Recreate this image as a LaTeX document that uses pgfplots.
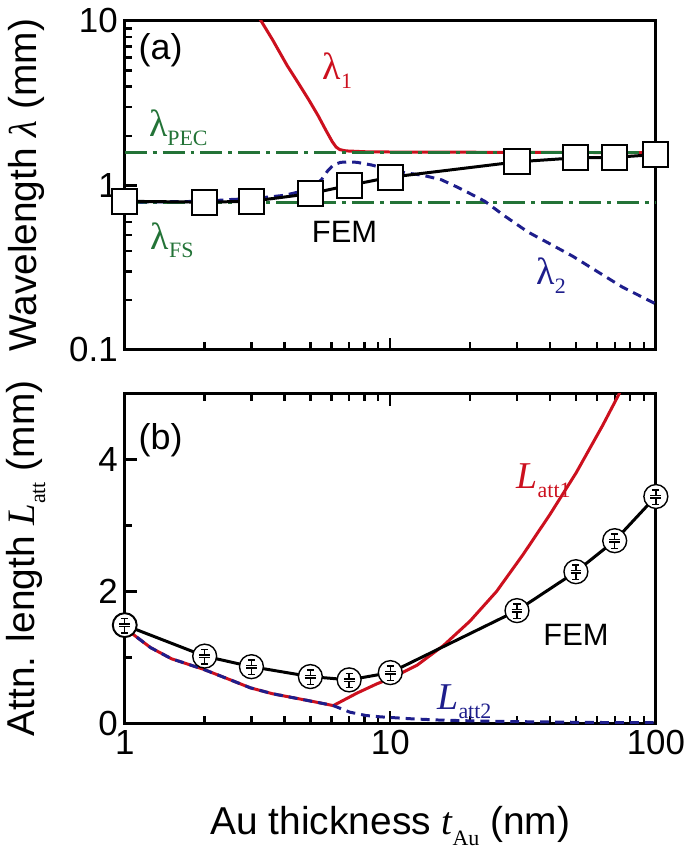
\documentclass[border=0pt]{standalone}
\usepackage{fontspec}
\setmainfont{Liberation Sans}
\newfontfamily\serif{Liberation Serif}
\usepackage{graphicx}
\usepackage{pgfplots}
\pgfplotsset{compat=1.18}

\definecolor{cred}{RGB}{204,16,30}
\definecolor{cblue}{RGB}{30,30,140}
\definecolor{cgreen}{RGB}{35,115,55}

\newcommand\sub[1]{\raisebox{-0.5ex}{\fontsize{11}{12}\selectfont #1}}

\pgfdeclareplotmark{cerr}{%
  \pgfpathcircle{\pgfpointorigin}{\pgfplotmarksize}%
  \pgfusepathqfillstroke
  \pgfsetlinewidth{0.7pt}%
  \pgfpathmoveto{\pgfqpoint{-0.3\pgfplotmarksize}{0.55\pgfplotmarksize}}%
  \pgfpathlineto{\pgfqpoint{0.3\pgfplotmarksize}{0.55\pgfplotmarksize}}%
  \pgfpathmoveto{\pgfqpoint{0pt}{0.55\pgfplotmarksize}}%
  \pgfpathlineto{\pgfqpoint{0pt}{0.08\pgfplotmarksize}}%
  \pgfpathmoveto{\pgfqpoint{-0.45\pgfplotmarksize}{0.08\pgfplotmarksize}}%
  \pgfpathlineto{\pgfqpoint{0.45\pgfplotmarksize}{0.08\pgfplotmarksize}}%
  \pgfpathmoveto{\pgfqpoint{-0.45\pgfplotmarksize}{-0.12\pgfplotmarksize}}%
  \pgfpathlineto{\pgfqpoint{0.45\pgfplotmarksize}{-0.12\pgfplotmarksize}}%
  \pgfpathmoveto{\pgfqpoint{0pt}{-0.12\pgfplotmarksize}}%
  \pgfpathlineto{\pgfqpoint{0pt}{-0.65\pgfplotmarksize}}%
  \pgfpathmoveto{\pgfqpoint{-0.3\pgfplotmarksize}{-0.65\pgfplotmarksize}}%
  \pgfpathlineto{\pgfqpoint{0.3\pgfplotmarksize}{-0.65\pgfplotmarksize}}%
  \pgfusepathqstroke
}

\pgfplotsset{
  every tick/.append style={line width=1.2pt, black},
  major tick length=6pt,
  minor tick length=3.8pt,
}

\begin{document}
\begin{tikzpicture}

% ---------- panel (a) ----------
\begin{axis}[
  scale only axis, width=266.5pt, height=165pt,
  at={(60.5pt,-175.5pt)}, anchor=south west,
  xmode=log, ymode=log,
  xmin=1, xmax=100, ymin=0.1, ymax=10,
  axis background/.style={draw=black, line width=1.5pt},
  tick align=inside,
  ticklabel style={font=\fontsize{17.5}{20}\selectfont},
  /pgf/number format/assume math mode=true,
  label style={font=\fontsize{19.5}{22}\selectfont},
  xtick={1,10,100}, xticklabels={},
  minor xtick={2,3,4,5,6,7,8,9,20,30,40,50,60,70,80,90},
  xtick pos=left,
  ytick pos=left,
  ytick={0.1,1,10}, yticklabels={0.1,1,10},
  minor ytick={0.2,0.3,0.4,0.5,0.6,0.7,0.8,0.9,2,3,4,5,6,7,8,9},
  ylabel={Wavelength {\serif\itshape λ} (mm)},
  ylabel style={at={(axis description cs:-0.186,0.5)}, anchor=center},
]
\addplot[cred, line width=1.5pt] coordinates {
 (3.1,11.5) (3.25,10.1) (3.6,7.7) (4.09,5.35) (4.5,4.2) (4.94,3.3) (5.35,2.65)
 (5.76,2.12) (6.05,1.84) (6.25,1.71) (6.45,1.65) (6.8,1.62) (8.1,1.60) (10,1.595) (20,1.59)
 (50,1.585) (100,1.58)};
\addplot[cgreen, line width=1.5pt, dash pattern=on 11pt off 3pt on 2pt off 3pt]
 coordinates {(1,1.58) (100,1.58)};
\addplot[cgreen, line width=1.5pt, dash pattern=on 11pt off 3pt on 2pt off 3pt]
 coordinates {(1,0.79) (100,0.79)};
\addplot[cblue, line width=1.5pt, dash pattern=on 4.5pt off 3pt] coordinates {
 (1,0.79) (1.5,0.795) (2,0.80) (2.5,0.82) (3,0.83) (3.5,0.85) (4,0.87) (4.5,0.91)
 (5,0.96) (5.5,1.08) (5.8,1.22) (6.1,1.33) (6.5,1.38) (7,1.39) (7.5,1.38)
 (8.5,1.33) (9.8,1.25) (11.5,1.19) (13.3,1.15) (15.6,1.08) (18,0.97) (20,0.89)
 (22.7,0.80) (27,0.65) (33,0.52) (40,0.44) (48.7,0.37) (60,0.30) (75,0.24) (100,0.19)};
\addplot[black, line width=1.5pt, mark=square*, mark size=6.3pt,
  mark options={fill=white, line width=1pt, solid}] coordinates {
 (1,0.80) (2,0.79) (3,0.80) (5,0.89) (7,1.0) (10,1.12) (30,1.39) (50,1.47) (70,1.48) (100,1.54)};

\node[anchor=center, font=\fontsize{18}{20}\selectfont] at (axis cs:1.365,6.67) {(a)};
\node[cgreen, anchor=base west, inner sep=0pt, font=\fontsize{19}{22}\selectfont\serif] at (axis cs:1.23,1.98) {λ\sub{PEC}};
\node[cgreen, anchor=base west, inner sep=0pt, font=\fontsize{19}{22}\selectfont\serif] at (axis cs:1.25,0.41) {λ\sub{FS}};
\node[cred, anchor=base west, inner sep=0pt, font=\fontsize{19}{22}\selectfont\serif] at (axis cs:5.55,4.39) {λ\sub{1}};
\node[cblue, anchor=base west, inner sep=0pt, font=\fontsize{19}{22}\selectfont\serif] at (axis cs:35.4,0.248) {λ\sub{2}};
\node[anchor=base west, inner sep=0pt, font=\fontsize{15.5}{18}\selectfont] at (axis cs:5.05,0.452) {FEM};
\end{axis}

% ---------- panel (b) ----------
\begin{axis}[
  scale only axis, width=266.5pt, height=165.5pt,
  at={(60.5pt,-363pt)}, anchor=south west,
  xmode=log,
  xmin=1, xmax=100, ymin=0, ymax=5,
  axis background/.style={draw=black, line width=1.5pt},
  tick align=inside,
  ticklabel style={font=\fontsize{17.5}{20}\selectfont},
  /pgf/number format/assume math mode=true,
  label style={font=\fontsize{19.5}{22}\selectfont},
  xtick={1,10,100}, xticklabels={1,10,100},
  minor xtick={2,3,4,5,6,7,8,9,20,30,40,50,60,70,80,90},
  xtick pos=both,
  xticklabel pos=left,
  ytick pos=left,
  ytick={0,2,4}, minor ytick={1,3},
  xlabel={Au thickness {\serif\itshape t}\sub{\serif Au} (nm)},
  xlabel style={at={(axis description cs:0.5,-0.338)}, anchor=base},
  ylabel={Attn. length {\serif\itshape L}\sub{\serif att} (mm)},
  ylabel style={at={(axis description cs:-0.186,0.5)}, anchor=center},
]
\addplot[cred, line width=1.5pt] coordinates {
 (1,1.44) (1.02,1.42) (1.25,1.15) (1.5,0.98) (1.98,0.82) (2.5,0.66) (2.97,0.54)
 (3.6,0.45) (4.57,0.37) (5.3,0.32) (6.1,0.27) (7.5,0.46) (8.9,0.60) (10,0.68)
 (12.59,0.88) (15.85,1.18) (19.95,1.55) (25.12,2.0) (31.62,2.56) (39.81,3.16)
 (50.12,3.80) (63.1,4.52) (72.4,4.98) (79.4,5.3)};
\addplot[cblue, line width=1.5pt, dash pattern=on 4.5pt off 3pt] coordinates {
 (1,1.44) (1.02,1.42) (1.25,1.15) (1.5,0.98) (1.98,0.82) (2.5,0.66) (2.97,0.54)
 (3.6,0.45) (4.57,0.37) (5.3,0.32) (6.1,0.27) (7.05,0.17) (8.1,0.12) (9.15,0.10)
 (12,0.07) (15.5,0.05) (22,0.035) (33,0.025) (55,0.015) (100,0.01)};
\addplot[black, line width=1.5pt, mark=cerr, mark size=6pt,
  mark options={fill=white, line width=1pt, solid}] coordinates {
 (1,1.49) (2,1.02) (3,0.86) (5,0.71) (7,0.66) (10,0.77) (30,1.71) (50,2.30) (70,2.77) (100,3.44)};

\node[anchor=center, font=\fontsize{18}{20}\selectfont] at (axis cs:1.365,4.30) {(b)};
\node[cred, anchor=base west, inner sep=0pt, font=\fontsize{19}{22}\selectfont\serif] at (axis cs:29.8,3.56) {\textit{L}\sub{att1}};
\node[cblue, anchor=base west, inner sep=0pt, font=\fontsize{19}{22}\selectfont\serif] at (axis cs:15.0,0.21) {\textit{L}\sub{att2}};
\node[anchor=base west, inner sep=0pt, font=\fontsize{15.5}{18}\selectfont] at (axis cs:37.6,1.18) {FEM};
\end{axis}
\path (0,0) (342.5pt,-426pt);
\end{tikzpicture}
\end{document}
